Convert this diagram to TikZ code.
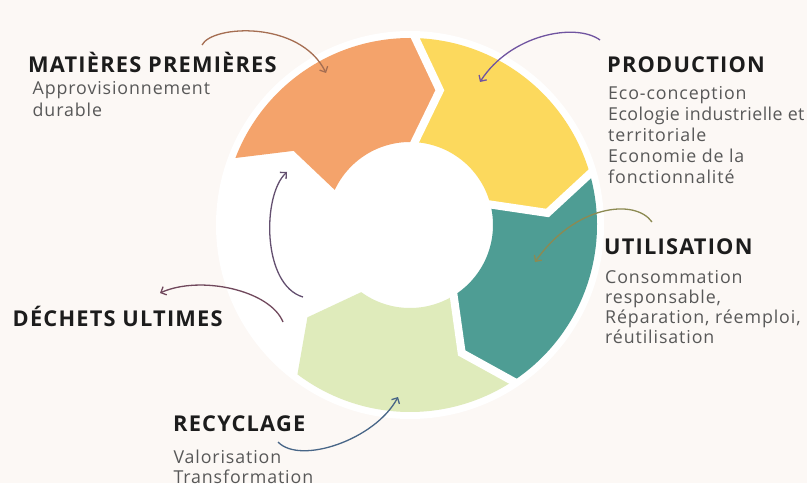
\documentclass[tikz,border=0pt]{standalone}
\usepackage{fontspec}
\setmainfont{Open Sans}
\newfontfamily\titlefont{Open Sans}[LetterSpace=5.5]
\newfontfamily\bodyfont{Open Sans}[LetterSpace=5]
\newfontfamily\bodytight{Open Sans}[LetterSpace=2.5]
\usetikzlibrary{arrows.meta}
\definecolor{bgc}{RGB}{252,248,245}
\definecolor{orangec}{RGB}{244,163,107}
\definecolor{yellowc}{RGB}{252,217,93}
\definecolor{tealc}{RGB}{78,157,148}
\definecolor{greenc}{RGB}{223,235,187}
\definecolor{titlec}{RGB}{28,28,28}
\definecolor{bodyc}{RGB}{88,88,88}
\definecolor{arrA}{RGB}{165,110,82}
\definecolor{arrB}{RGB}{112,84,160}
\definecolor{arrC}{RGB}{140,138,82}
\definecolor{arrD}{RGB}{72,102,135}
\definecolor{arrE}{RGB}{112,72,92}
\definecolor{arrF}{RGB}{100,80,112}
\begin{document}
\begin{tikzpicture}[x=1pt,y=1pt,
  title/.style={anchor=base west, inner sep=0pt, font=\titlefont\bfseries\fontsize{21.8}{24}\selectfont, text=titlec},
  body/.style={anchor=base west, inner sep=0pt, font=\bodyfont\fontsize{17.8}{20}\selectfont, text=bodyc},
  bodyT/.style={body, font=\bodytight\fontsize{17.8}{20}\selectfont},
  arr/.style={line width=1.3pt, -{Straight Barb[length=4.5pt,width=9pt]}},
  gap/.style={draw=white, line width=8pt}]
\useasboundingbox (0,0) rectangle (807,483);
\fill[bgc] (0,0) rectangle (807,483);
\begin{scope}[shift={(410,258)}]
  \fill[white] (0,0) circle[radius=194];
  % orange
  \fill[orangec] (159:187) arc[start angle=159,end angle=89,radius=187]
     -- (77.5:138) -- (88:83) arc[start angle=88,end angle=155,radius=83]
     -- (147.5:138) -- cycle;
  % yellow
  \fill[yellowc] (89:187) arc[start angle=89,end angle=16.5,radius=187]
     -- (5:138) -- (15.5:83) arc[start angle=15.5,end angle=88,radius=83]
     -- (77.5:138) -- cycle;
  % teal
  \fill[tealc] (16.5:187) arc[start angle=16.5,end angle=-56,radius=187]
     -- (-68:138) -- (-57:83) arc[start angle=-57,end angle=15.5,radius=83]
     -- (5:138) -- cycle;
  % light green
  \fill[greenc] (-56:187) arc[start angle=-56,end angle=-127,radius=187]
     -- (-138:138) -- (-126:83) arc[start angle=-126,end angle=-57,radius=83]
     -- (-68:138) -- cycle;
  % gaps
  \draw[gap] (89:191) -- (77.5:138) -- (88:79);
  \draw[gap] (16.5:191) -- (5:138) -- (15.5:79);
  \draw[gap] (-56:191) -- (-68:138) -- (-57:79);
\end{scope}

% titles
\node[title] (mp) at (28,410.5) {MATIÈRES PREMIÈRES};
\node[title] (prod) at (607,410.3) {PRODUCTION};
\node[title] (util) at (604,228.7) {UTILISATION};
\node[title] (dech) at (12.5,156.3) {DÉCHETS ULTIMES};
\node[title] (recy) at (173,51.3) {RECYCLAGE};

% body text
\node[body] (mp1) at (32.5,388) {Approvisionnement};
\node[body] (mp2) at (32.5,366.5) {durable};
\node[body] (p1) at (608,383) {Eco-conception};
\node[bodyT] (p2) at (608,362.2) {Ecologie industrielle et};
\node[body] (p3) at (608,341.4) {territoriale};
\node[body] (p4) at (608,320.6) {Economie de la};
\node[body] (p5) at (608,299.8) {fonctionnalité};
\node[body] (u1) at (605,199.7) {Consommation};
\node[body] (u2) at (605,179.7) {responsable,};
\node[body] (u3) at (605,159.7) {Réparation, réemploi,};
\node[body] (u4) at (605,139.7) {réutilisation};
\node[body] (r1) at (173.3,19.7) {Valorisation};
\node[body] (r2) at (173.3,-0.5) {Transformation};

% arrow end points
\coordinate (a1s) at (202,438);  \coordinate (a1e) at (326,410);
\coordinate (a2s) at (600,443);  \coordinate (a2e) at (480,401);
\coordinate (a3s) at (652,261);  \coordinate (a3e) at (535,221);
\coordinate (a4s) at (278,41);   \coordinate (a4e) at (398,86);
\coordinate (a5s) at (283,161);  \coordinate (a5e) at (160,190);
\coordinate (a6s) at (303,186);  \coordinate (a6e) at (287,311);

\draw[arr, arrA] (a1s) .. controls (212,458) and (300,463) .. (a1e);
\draw[arr, arrB] (a2s) .. controls (575,461) and (510,448) .. (a2e);
\draw[arr, arrC] (a3s) .. controls (635,285) and (575,278) .. (a3e);
\draw[arr, arrD] (a4s) .. controls (300,18) and (375,43) .. (a4e);
\draw[arr, arrE] (a5s) .. controls (270,193) and (200,208) .. (a5e);
\draw[arr, arrF] (a6s) .. controls (262,198) and (262,288) .. (a6e);
\end{tikzpicture}
\end{document}
